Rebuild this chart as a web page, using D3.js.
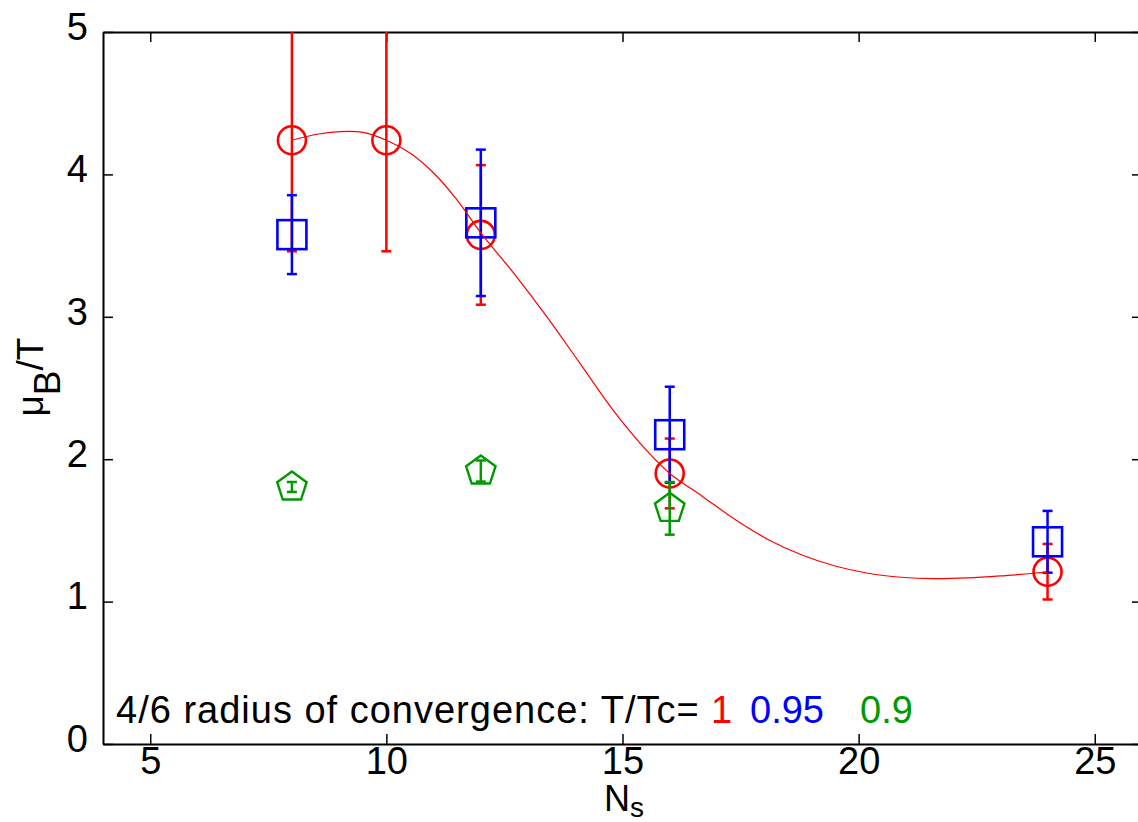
<html>
<head>
<script src="https://d3js.org/d3.v7.min.js"></script>
<style>
body { margin: 0; background: #fff; }
svg { display: block; font-family: 'Liberation Sans', Arial, sans-serif; }
</style>
</head>
<body>
<div id="chart"></div>
<script>
// data
var nsT100 = [8, 10, 12, 16, 24];
var muT100 = [4.24, 4.24, 3.575, 1.90, 1.21];
var errT100 = [0.78, 0.78, 0.49, 0.245, 0.195];

var nsT095 = [8, 12, 16, 24];
var muT095 = [3.577, 3.66, 2.172, 1.42];
var errT095 = [0.277, 0.514, 0.337, 0.217];

var nsT090 = [8, 12, 16];
var muT090 = [1.805, 1.917, 1.655];
var errT090 = [0.035, 0.074, 0.185];

// fitted curve for T/Tc = 1
var fitNs = [8, 8.5, 9, 9.5, 10, 10.5, 11, 11.5, 12, 12.7, 13.4, 14.1, 14.8, 15.5, 16,
             16.7, 17.4, 18.1, 18.8, 19.5, 20.2, 20.9, 21.6, 22.3, 23, 23.7, 24];
var fitMu = [4.24, 4.28, 4.30, 4.295, 4.24, 4.15, 4.01, 3.82, 3.59, 3.305, 3.0, 2.673, 2.345, 2.065, 1.90,
             1.737, 1.573, 1.433, 1.327, 1.25, 1.199, 1.171, 1.161, 1.166, 1.18, 1.199, 1.206];

var xTicks = [5, 10, 15, 20, 25];
var yTicks = [0, 1, 2, 3, 4, 5];

var W = 1138, H = 822;
var mLeft = 103, mTop = 32, mRight = 1142, mBottom = 744;

var svg = d3.select("#chart").append("svg").attr("width", W).attr("height", H);

var x = d3.scaleLinear().domain([4, 26]).range([mLeft, mRight]);
var y = d3.scaleLinear().domain([0, 5]).range([mBottom, mTop]);

svg.append("clipPath").attr("id", "plotclip")
  .append("rect").attr("x", mLeft).attr("y", mTop)
  .attr("width", mRight - mLeft).attr("height", mBottom - mTop);

// axes, ticks pointing inward
function styleAxis(g) {
  g.select(".domain").attr("stroke", "#000").attr("stroke-width", 2);
  g.selectAll(".tick line").attr("stroke", "#000").attr("stroke-width", 1.5);
  g.selectAll(".tick text").attr("fill", "#000").style("font-size", "38px")
    .style("font-family", "'Liberation Sans', Arial, sans-serif");
}

svg.append("g").attr("transform", "translate(0," + mBottom + ")")
  .call(d3.axisBottom(x).tickValues(xTicks).tickFormat(d3.format("d"))
    .tickSize(-10).tickPadding(3).tickSizeOuter(0))
  .call(styleAxis);

svg.append("g").attr("transform", "translate(0," + mTop + ")")
  .call(d3.axisTop(x).tickValues(xTicks).tickSize(-10).tickFormat("").tickSizeOuter(0))
  .call(styleAxis);

var yAxisG = svg.append("g").attr("transform", "translate(" + mLeft + ",0)")
  .call(d3.axisLeft(y).tickValues(yTicks).tickFormat(d3.format("d"))
    .tickSize(-10).tickPadding(15).tickSizeOuter(0))
  .call(styleAxis);
yAxisG.selectAll(".tick text").attr("dy", "0.19em");

svg.append("g").attr("transform", "translate(" + mRight + ",0)")
  .call(d3.axisRight(y).tickValues(yTicks).tickSize(-10).tickFormat("").tickSizeOuter(0))
  .call(styleAxis);

// error bars + markers
var plot = svg.append("g").attr("clip-path", "url(#plotclip)");

function drawSeries(ns, mu, err, color, marker) {
  var g = plot.append("g");
  var pts = ns.map(function(d, i) { return {n: d, v: mu[i], e: err[i]}; });
  pts.forEach(function(p) {
    var cx = x(p.n), hi = y(p.v + p.e), lo = y(p.v - p.e);
    g.append("line").attr("x1", cx).attr("x2", cx).attr("y1", hi).attr("y2", lo)
      .attr("stroke", color).attr("stroke-width", 2.5);
    [hi, lo].forEach(function(yy) {
      g.append("line").attr("x1", cx - 5).attr("x2", cx + 5).attr("y1", yy).attr("y2", yy)
        .attr("stroke", color).attr("stroke-width", 2.5);
    });
    marker(g, cx, y(p.v), color);
  });
}

function circleMark(g, cx, cy, color) {
  g.append("circle").attr("cx", cx).attr("cy", cy).attr("r", 14)
    .attr("fill", "none").attr("stroke", color).attr("stroke-width", 2.6);
}
function squareMark(g, cx, cy, color) {
  g.append("rect").attr("x", cx - 14.5).attr("y", cy - 14.5).attr("width", 29).attr("height", 29)
    .attr("fill", "none").attr("stroke", color).attr("stroke-width", 2.6);
}
function pentaMark(g, cx, cy, color) {
  var R = 15.5;
  var pts = d3.range(5).map(function(k) {
    var a = -Math.PI / 2 + k * 2 * Math.PI / 5;
    return [cx + R * Math.cos(a), cy + R * Math.sin(a)];
  });
  g.append("polygon").attr("points", pts.map(function(p) { return p.join(","); }).join(" "))
    .attr("fill", "none").attr("stroke", color).attr("stroke-width", 2.4);
}

drawSeries(nsT100, muT100, errT100, "#ff0000", circleMark);
drawSeries(nsT095, muT095, errT095, "#0000ff", squareMark);
drawSeries(nsT090, muT090, errT090, "#009a00", pentaMark);

// fit line
var line = d3.line().x(function(d) { return x(d[0]); }).y(function(d) { return y(d[1]); })
  .curve(d3.curveCatmullRom);
plot.append("path").datum(fitNs.map(function(d, i) { return [d, fitMu[i]]; }))
  .attr("d", line).attr("fill", "none").attr("stroke", "#ff0000").attr("stroke-width", 1.2);

// annotation
var note = svg.append("g").style("font-size", "38px");
note.append("text").attr("x", 116).attr("y", 723).attr("fill", "#000")
  .style("letter-spacing", "1px")
  .text("4/6 radius of convergence: T/Tc= ");
note.append("text").attr("x", 711).attr("y", 723).attr("fill", "#ff0000").text("1");
note.append("text").attr("x", 750).attr("y", 723).attr("fill", "#0000ff").text("0.95");
note.append("text").attr("x", 860).attr("y", 723).attr("fill", "#009a00").text("0.9");

// axis titles
var xl = svg.append("text").attr("x", 624).attr("y", 811).attr("text-anchor", "middle")
  .style("font-size", "36px").attr("fill", "#000");
xl.append("tspan").text("N");
xl.append("tspan").attr("dy", 6).style("font-size", "28px").text("s");

var yl = svg.append("text").attr("transform", "translate(43,377) rotate(-90)")
  .attr("text-anchor", "middle").style("font-size", "37px").attr("fill", "#000");
yl.append("tspan").text("\u03bc");
yl.append("tspan").attr("dy", 17).text("B");
yl.append("tspan").attr("dy", -17).text("/T");
</script>
</body>
</html>
